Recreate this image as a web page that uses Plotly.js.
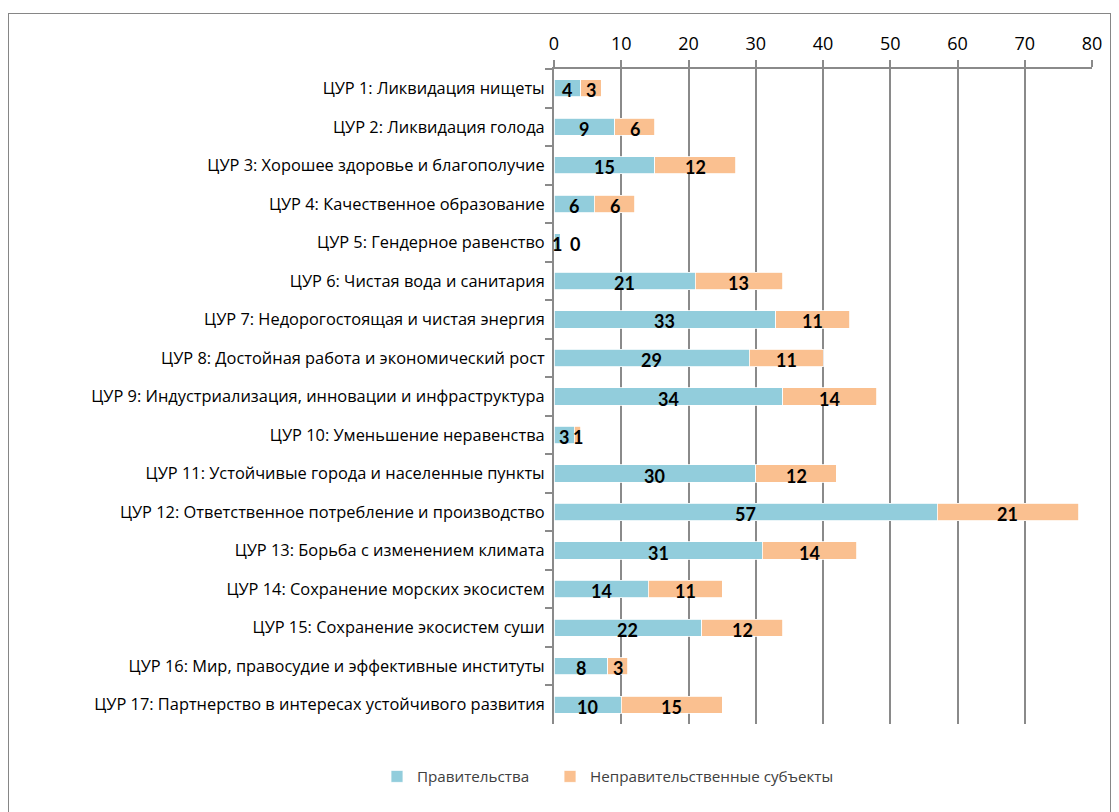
<!DOCTYPE html>
<html>
<head>
<meta charset="utf-8">
<script src="https://cdn.plot.ly/plotly-3.0.1.min.js"></script>
<style>
  html, body { margin: 0; padding: 0; background: #fff; }
  #wrap { position: relative; width: 1119px; height: 812px; }
  #chart { position: absolute; left: 0; top: 0; width: 1119px; height: 812px; }
  #frame { position: absolute; left: 8px; top: 13px; width: 1101px; height: 805px; border: 1px solid #868686; pointer-events: none; }
</style>
</head>
<body>
<div id="wrap"><div id="chart"></div><div id="frame"></div></div>
<script>
const categories = [
  "ЦУР 1: Ликвидация нищеты",
  "ЦУР 2: Ликвидация голода",
  "ЦУР 3: Хорошее здоровье и благополучие",
  "ЦУР 4: Качественное образование",
  "ЦУР 5: Гендерное равенство",
  "ЦУР 6: Чистая вода и санитария",
  "ЦУР 7: Недорогостоящая и чистая энергия",
  "ЦУР 8: Достойная работа и экономический рост",
  "ЦУР 9: Индустриализация, инновации и инфраструктура",
  "ЦУР 10: Уменьшение неравенства",
  "ЦУР 11: Устойчивые города и населенные пункты",
  "ЦУР 12: Ответственное потребление и производство",
  "ЦУР 13: Борьба с изменением климата",
  "ЦУР 14: Сохранение морских экосистем",
  "ЦУР 15: Сохранение экосистем суши",
  "ЦУР 16: Мир, правосудие и эффективные институты",
  "ЦУР 17: Партнерство в интересах устойчивого развития"
];
const government = [4, 9, 15, 6, 1, 21, 33, 29, 34, 3, 30, 57, 31, 14, 22, 8, 10];
const nonGovernment = [3, 6, 12, 6, 0, 13, 11, 11, 14, 1, 12, 21, 14, 11, 12, 3, 15];
const seriesNames = ["Правительства", "Неправительственные субъекты"];
const xTicks = [0, 10, 20, 30, 40, 50, 60, 70, 80];

const BLUE = "#92CDDC";
const ORANGE = "#FAC090";

const traces = [
  {
    type: "bar", orientation: "h", name: seriesNames[0], legend: "legend",
    y: categories, x: government,
    marker: { color: BLUE, line: { color: "#ffffff", width: 0.8 } },
    hoverinfo: "x+name"
  },
  {
    type: "bar", orientation: "h", name: seriesNames[1], legend: "legend2",
    y: categories, x: nonGovernment,
    marker: { color: ORANGE, line: { color: "#ffffff", width: 0.8 } },
    hoverinfo: "x+name"
  }
];

const labelFont = { family: "Lato, 'Open Sans', sans-serif", size: 18, color: "#000000", weight: "bold" };
const annotations = [];
categories.forEach((c, i) => {
  const g = government[i], n = nonGovernment[i];
  annotations.push({
    x: g / 2, y: c, xref: "x", yref: "y", text: "<b>" + g + "</b>",
    showarrow: false, font: labelFont, yshift: -2
  });
  annotations.push({
    x: g + n / 2, y: c, xref: "x", yref: "y", text: "<b>" + n + "</b>",
    showarrow: false, font: labelFont, yshift: -2, xshift: n === 0 ? 14 : 0
  });
});

const legendFont = { family: "'Open Sans', sans-serif", size: 15.2, color: "#404040" };

const layout = {
  width: 1119, height: 812,
  margin: { l: 554, r: 27, t: 69, b: 88 },
  paper_bgcolor: "#ffffff", plot_bgcolor: "#ffffff",
  barmode: "stack",
  bargap: 0.55,
  font: { family: "'Open Sans', Lato, sans-serif", color: "#000000" },
  xaxis: {
    side: "top", range: [0, 80], tickvals: xTicks, ticktext: xTicks.map(String),
    showgrid: true, gridcolor: "#8a8a8a", gridwidth: 2,
    showline: true, linecolor: "#8a8a8a", linewidth: 2,
    ticks: "outside", ticklen: 7, tickcolor: "#8a8a8a", tickwidth: 2,
    ticklabelstandoff: 3,
    tickfont: { family: "'Open Sans', sans-serif", size: 18, color: "#000000" }, zeroline: false, fixedrange: true
  },
  yaxis: {
    type: "category", autorange: "reversed",
    showline: true, linecolor: "#8a8a8a", linewidth: 2,
    ticks: "outside", tickson: "boundaries", ticklen: 7, tickcolor: "#8a8a8a", tickwidth: 2,
    ticklabelstandoff: 4,
    tickfont: { family: "'Open Sans', sans-serif", size: 16.4, color: "#000000" }, showgrid: false, fixedrange: true
  },
  legend: {
    orientation: "h", x: -0.329, xanchor: "left", y: -0.055, yanchor: "top",
    font: legendFont, bgcolor: "rgba(0,0,0,0)"
  },
  legend2: {
    orientation: "h", x: -0.0074, xanchor: "left", y: -0.055, yanchor: "top",
    font: legendFont, bgcolor: "rgba(0,0,0,0)"
  },
  annotations: annotations,
  showlegend: true
};

Plotly.newPlot("chart", traces, layout, { displayModeBar: false, staticPlot: true });
</script>
</body>
</html>
